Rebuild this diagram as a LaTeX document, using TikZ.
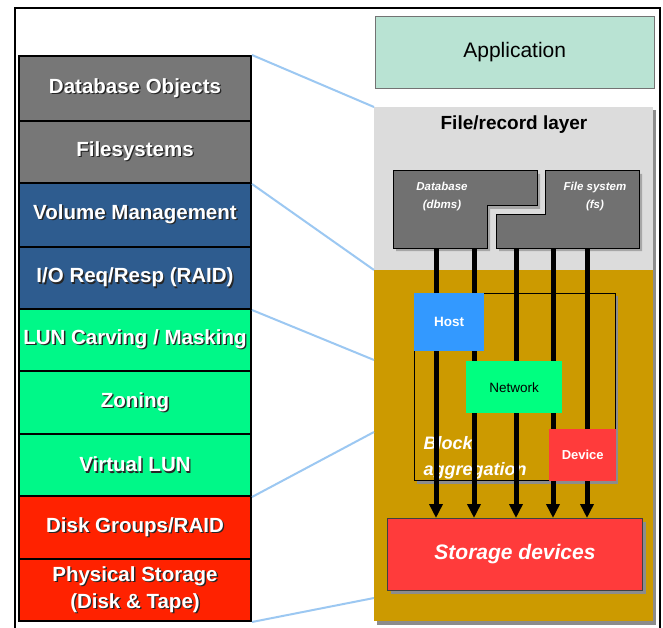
\documentclass[tikz,border=0pt]{standalone}
\usepackage{fontspec}
\setmainfont{Liberation Sans}
\usetikzlibrary{arrows.meta}

\definecolor{rowgray}{HTML}{777777}
\definecolor{rowblue}{HTML}{2E5C8F}
\definecolor{rowgreen}{HTML}{00F888}
\definecolor{rowred}{HTML}{FF2200}
\definecolor{appmint}{HTML}{B9E3D3}
\definecolor{layergray}{HTML}{DCDCDC}
\definecolor{gold}{HTML}{CC9A00}
\definecolor{boxgray}{HTML}{717171}
\definecolor{hostblue}{HTML}{3399FF}
\definecolor{netgreen}{HTML}{00FF80}
\definecolor{devred}{HTML}{FF3B3B}
\definecolor{linkblue}{HTML}{9CC8F2}

% white lettering with a dark drop shadow
\newcommand\shadowed[1]{\rlap{\hspace{1.4pt}\raisebox{-1.4pt}{\textcolor{black!85}{#1}}}\textcolor{white}{#1}}

\tikzset{
  row/.style={draw=black, line width=2pt, minimum width=232pt, inner sep=0pt,
    anchor=north west, align=center,
    font=\fontsize{20.5}{27}\selectfont\bfseries},
  panel/.style={anchor=north west, inner sep=0pt, minimum width=279pt},
  link/.style={draw=linkblue, line width=2pt},
  flow/.style={line width=5pt, -{Triangle[width=13pt,length=14pt]}},
  smalllabel/.style={text=white, align=center,
    font=\fontsize{11.5}{18}\selectfont\bfseries\itshape},
  component/.style={anchor=north west, inner sep=0pt},
}

\begin{document}
\begin{tikzpicture}[x=1pt,y=-1pt]
\useasboundingbox (0,0) rectangle (663,628);
\fill[white] (0,0) rectangle (663,628);

% ---- layer stack on the left ----
\node[row, fill=rowgray,  minimum height=65pt] (dbobj) at (18,55)  {\shadowed{Database Objects}};
\node[row, fill=rowgray,  minimum height=62pt] (fsys)  at (18,120) {\shadowed{Filesystems}};
\node[row, fill=rowblue,  minimum height=64pt] (volm)  at (18,182) {\shadowed{Volume Management}};
\node[row, fill=rowblue,  minimum height=62pt] (ioreq) at (18,246) {\shadowed{I/O Req/Resp (RAID)}};
\node[row, fill=rowgreen, minimum height=62pt] (lun)   at (18,308) {\shadowed{LUN Carving / Masking}};
\node[row, fill=rowgreen, minimum height=63pt] (zone)  at (18,370) {\shadowed{Zoning}};
\node[row, fill=rowgreen, minimum height=62pt] (vlun)  at (18,433) {\shadowed{Virtual LUN}};
\node[row, fill=rowred,   minimum height=63pt] (dgrp)  at (18,495) {\shadowed{Disk Groups/RAID}};
\node[row, fill=rowred,   minimum height=62pt] (phys)  at (18,558) {\shadowed{Physical Storage}\\\shadowed{(Disk \& Tape)}};

% ---- application and layer panels on the right ----
\node[panel, draw=black!55, fill=appmint, minimum height=72pt,
      font=\fontsize{21}{24}\selectfont] (app) at (375,16) {Application};

\fill[black!45] (377,110) rectangle (656,625);
\node[panel, fill=layergray, minimum height=163pt] (filelayer)  at (374,107) {};
\node[panel, fill=gold,      minimum height=351pt] (blocklayer) at (374,270) {};
\node[font=\fontsize{19}{22}\selectfont\bfseries] (filetitle) at (514,125) {File/record layer};

% database and file system blocks
\fill[black!35] (396,174) -- (540,174) -- (540,209) -- (490,209) -- (490,251) -- (396,251) -- cycle;
\fill[black!35] (548,174) -- (642,174) -- (642,251) -- (499,251) -- (499,218) -- (548,218) -- cycle;
\draw[fill=boxgray, line width=1pt] (393,171) -- (537,171) -- (537,206) -- (487,206) -- (487,248) -- (393,248) -- cycle;
\draw[fill=boxgray, line width=1pt] (545,171) -- (639,171) -- (639,248) -- (496,248) -- (496,215) -- (545,215) -- cycle;
\node[smalllabel] (dbmslabel) at (442,197) {Database\\(dbms)};
\node[smalllabel] (fslabel)   at (595,197) {File system\\(fs)};

% block aggregation frame
\draw[black!45, line width=2.5pt] (617,296) -- (617,482.5) -- (417,482.5);
\node[component, draw=black, line width=0.8pt, minimum width=201pt, minimum height=187pt] (blockagg) at (414,293) {};
\node[anchor=base west, text=white, font=\fontsize{18}{22}\selectfont\bfseries\itshape] (blk1) at (420,449) {Block};
\node[anchor=base west, text=white, font=\fontsize{18}{22}\selectfont\bfseries\itshape] (blk2) at (420,475) {aggregation};

% storage devices
\fill[black!45] (391,522) rectangle (646,594);
\node[component, draw=black!75, line width=1pt, fill=devred, minimum width=255pt, minimum height=72pt,
      text=white, font=\fontsize{21}{24}\selectfont\bfseries\itshape] (store) at (387,518) {Storage devices};

% I/O paths
\foreach \i/\x in {1/436, 2/474, 3/516, 4/553, 5/587} {
  \coordinate (src\i) at (\x,248);
  \draw[flow] (src\i) -- (src\i |- store.north);
}

% components along the path
\node[component, fill=hostblue, minimum width=70pt, minimum height=58pt, text=white,
      font=\fontsize{13.5}{16}\selectfont\bfseries] (host) at (414,293) {Host};
\node[component, fill=netgreen, minimum width=96pt, minimum height=52pt,
      font=\fontsize{13.5}{16}\selectfont] (net) at (466,361) {Network};
\node[component, fill=devred, minimum width=67pt, minimum height=52pt, text=white,
      font=\fontsize{13}{16}\selectfont\bfseries] (dev) at (549,429) {Device};

% mapping lines between the stack and the layers
\coordinate (m3) at (374,360);
\coordinate (m4) at (374,432);
\coordinate (m5) at (374,598);
\draw[link] (dbobj.north east) -- (filelayer.north west);
\draw[link] (fsys.south east) -- (blocklayer.north west);
\draw[link] (ioreq.south east) -- (m3);
\draw[link] (vlun.south east) -- (m4);
\draw[link] (phys.south east) -- (m5);

% outer frame
\draw[line width=2.2pt] (15,628) -- (15,8) -- (660,8) -- (660,628);
\end{tikzpicture}
\end{document}
